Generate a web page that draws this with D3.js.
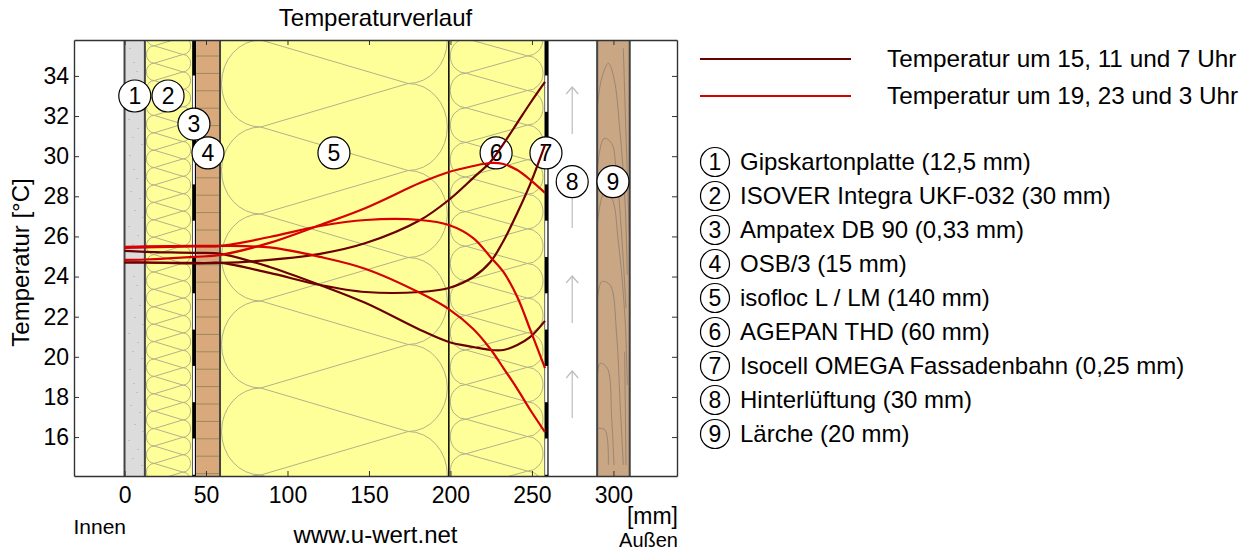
<!DOCTYPE html>
<html>
<head>
<meta charset="utf-8">
<script src="https://d3js.org/d3.v7.min.js"></script>
<style>
  html, body { margin: 0; padding: 0; background: #fff; }
  text { font-family: "Liberation Sans", Arial, sans-serif; fill: #000; }
</style>
</head>
<body>
<svg id="chart" width="1245" height="551"></svg>
<script>
// depth through the wall [mm] and temperature curves [degC]
const depths = [0, 12.5, 43, 59, 89, 120, 148, 181.5, 199, 214, 224.5, 232.5, 241, 249, 258];
const dark1 = [24.70, 24.70, 24.68, 24.68, 24.83, 25.13, 25.67, 26.82, 27.82, 28.92, 29.71, 30.61, 31.66, 32.65, 33.70];
const dark2 = [24.70, 24.70, 24.65, 24.68, 24.18, 23.58, 23.23, 23.23, 23.43, 23.98, 24.73, 25.77, 27.17, 28.62, 30.56];
const dark3 = [25.28, 25.23, 25.18, 25.13, 24.48, 23.58, 22.68, 21.34, 20.74, 20.49, 20.34, 20.34, 20.59, 20.99, 21.79];
const red1 = [24.83, 24.85, 24.98, 25.08, 25.68, 26.57, 27.42, 28.67, 29.21, 29.51, 29.66, 29.61, 29.31, 28.82, 28.17];
const red2 = [25.43, 25.45, 25.50, 25.53, 25.97, 26.52, 26.82, 26.82, 26.57, 25.92, 24.98, 24.23, 22.98, 21.34, 19.44];
const red3 = [25.48, 25.50, 25.53, 25.53, 25.45, 24.98, 24.38, 23.18, 22.38, 21.39, 20.39, 19.44, 18.40, 17.35, 16.25];

const xTicks = [0, 50, 100, 150, 200, 250, 300];
const yTicks = [16, 18, 20, 22, 24, 26, 28, 30, 32, 34];

const layerNames = [
  'Gipskartonplatte (12,5 mm)',
  'ISOVER Integra UKF-032 (30 mm)',
  'Ampatex DB 90 (0,33 mm)',
  'OSB/3 (15 mm)',
  'isofloc L / LM (140 mm)',
  'AGEPAN THD (60 mm)',
  'Isocell OMEGA Fassadenbahn (0,25 mm)',
  'Hinterlüftung (30 mm)',
  'Lärche (20 mm)'
];
const markerX = [6.3, 26.7, 42.6, 51.2, 128.5, 228, 258.6, 274.7, 299.7];
const markerT = [33, 33, 31.6, 30.16, 30.16, 30.16, 30.16, 28.73, 28.73];

const legendLabels = ['Temperatur um 15, 11 und 7 Uhr', 'Temperatur um 19, 23 und 3 Uhr'];
const DARK = '#6b0000', RED = '#d60000';

const margin = { left: 74, right: 568, top: 40, bottom: 75 };
const svg = d3.select('#chart');
const x = d3.scaleLinear().domain([-31, 339]).range([margin.left, 1245 - margin.right]);
const y = d3.scaleLinear().domain([14.06, 35.79]).range([551 - margin.bottom, margin.top]);
const plotTop = y.range()[1], plotBottom = y.range()[0];

svg.append('defs').append('clipPath').attr('id', 'plot')
  .append('rect')
  .attr('x', margin.left).attr('y', plotTop)
  .attr('width', x.range()[1] - x.range()[0]).attr('height', plotBottom - plotTop);

const g = svg.append('g').attr('clip-path', 'url(#plot)');

function band(x0, x1, fill) {
  return g.append('rect')
    .attr('x', x(x0)).attr('y', plotTop)
    .attr('width', x(x1) - x(x0)).attr('height', plotBottom - plotTop)
    .attr('fill', fill);
}

// mineral wool symbol: half ellipses on both sides joined by crossing lines
function wool(x0, x1, period, phase) {
  const left = x(x0) + 1.5, right = x(x1) - 1.5, ry = period / 2, rx = ry * 0.9;
  let d = '';
  for (let yy = phase - 2 * period; yy < plotBottom + period; yy += period) {
    d += `M${left + rx},${yy}A${rx},${ry} 0 0 0 ${left + rx},${yy + period}`;
    d += `L${right - rx},${yy + ry}`;
    d += `A${rx},${ry} 0 0 1 ${right - rx},${yy + ry + period}`;
    d += `L${left + rx},${yy + period}`;
  }
  g.append('path').attr('d', d)
    .attr('fill', 'none').attr('stroke', '#b2b28a').attr('stroke-width', 1);
}

// gypsum board
band(0, 12.5, '#dcdcdc');
const specks = [[4, 8], [8, 22], [11, 31], [5, 44], [14, 51], [9, 63], [17, 70], [3, 79], [12, 88], [7, 97], [16, 104]];
d3.range(0, 5).forEach(k => {
  g.selectAll(null).data(specks).join('rect')
    .attr('x', d => x(0) + 1 + d[0]).attr('y', d => plotTop + d[1] + k * 107)
    .attr('width', 1).attr('height', 1).attr('fill', '#a5a5a5');
});

// insulation
band(12.5, 41.5, '#ffff99');
wool(12.5, 41.5, 17.4, 45.8);
band(58.6, 199, '#ffff99');
wool(58.6, 199, 87, 40);
band(199, 257.7, '#ffff99');
wool(199, 257.7, 34.6, 38.6);

// OSB
band(44, 58.6, '#d9a97c');
d3.range(0, 26).forEach(k => {
  g.append('line')
    .attr('x1', x(44)).attr('x2', x(58.6))
    .attr('y1', plotTop + 16 + k * 17.4).attr('y2', plotTop + 16 + k * 17.4)
    .attr('stroke', '#9a8a5c').attr('stroke-width', 1);
});

// larch with grain lines, traced from the wood symbol
band(290, 310, '#c9a684');
const grainLines = [
  [[22, 215], [35, 130], [55, 85], [72, 130], [90, 290], [105, 500], [112, 720]],
  [[22, 400], [42, 310], [65, 325], [78, 400], [95, 600], [108, 820]],
  [[22, 570], [42, 475], [65, 490], [85, 620], [105, 850], [112, 1050]],
  [[22, 800], [35, 740], [60, 750], [80, 900], [90, 1100], [100, 1290]],
  [[22, 1030], [30, 985], [52, 1000], [65, 1150], [72, 1290]],
  [[22, 1180], [45, 1185], [55, 1290]],
  [[100, 40], [108, 300], [118, 600]],
  [[104, 950], [108, 1290]]
];
const grainPath = d3.line().x(d => 590 + d[0] / 3).y(d => 35 + d[1] / 3).curve(d3.curveCatmullRom);
g.append('g').selectAll('path').data(grainLines).join('path')
  .attr('d', grainPath)
  .attr('fill', 'none').attr('stroke', '#948270').attr('stroke-width', 0.9);

// layer borders
[[0, 2], [12.5, 2], [58.6, 2], [199, 1.5], [290, 2], [310, 2]].forEach(b => {
  g.append('line')
    .attr('x1', x(b[0])).attr('x2', x(b[0])).attr('y1', plotTop).attr('y2', plotBottom)
    .attr('stroke', b[1] > 1.8 ? '#444' : '#000').attr('stroke-width', b[1]);
});

// membranes, alternating thick black and thin white sections
[[41.5, 43.9], [257.7, 260.2]].forEach(m => {
  const mx = x(m[0]), mw = x(m[1]) - x(m[0]);
  g.append('rect').attr('x', mx).attr('y', plotTop).attr('width', mw).attr('height', plotBottom - plotTop).attr('fill', '#000');
  d3.range(0, 6).forEach(k => {
    g.append('rect')
      .attr('x', mx + 0.6).attr('y', plotTop + 35.5 + k * 72.6)
      .attr('width', mw - 1.8).attr('height', 36.3)
      .attr('fill', '#fff');
  });
});

// air gap arrows
const arrows = g.append('g').attr('fill', 'none').attr('stroke', '#bdbdbd').attr('stroke-width', 1.2);
[87, 181, 276, 371].forEach(tip => {
  const ax = x(274.7);
  arrows.append('path')
    .attr('d', `M${ax},${tip + 47}V${tip}M${ax - 6},${tip + 7}L${ax},${tip}L${ax + 6},${tip + 7}`);
});

// axes with inward ticks
function styleAxis(sel) {
  sel.selectAll('path').attr('stroke', '#333').attr('stroke-width', 1.4);
  sel.selectAll('line').attr('stroke', '#333').attr('stroke-width', 1);
  sel.selectAll('text').attr('font-size', 23).attr('font-family', '"Liberation Sans", Arial, sans-serif');
}
svg.append('g').attr('transform', `translate(0,${plotBottom})`)
  .call(d3.axisBottom(x).tickValues(xTicks).tickSizeInner(-5).tickSizeOuter(0).tickPadding(10.7))
  .call(styleAxis);
svg.append('g').attr('transform', `translate(0,${plotTop})`)
  .call(d3.axisTop(x).tickValues(xTicks).tickSizeInner(-5).tickSizeOuter(0).tickFormat(''))
  .call(styleAxis);
svg.append('g').attr('transform', `translate(${margin.left},0)`)
  .call(d3.axisLeft(y).tickValues(yTicks).tickSizeInner(-5).tickSizeOuter(0).tickPadding(5))
  .call(styleAxis);
svg.append('g').attr('transform', `translate(${x.range()[1]},0)`)
  .call(d3.axisRight(y).tickValues(yTicks).tickSizeInner(-5).tickSizeOuter(0).tickFormat(''))
  .call(styleAxis);

// temperature curves
const line = d3.line()
  .x((d, i) => x(depths[i]))
  .y(d => y(d))
  .curve(d3.curveCatmullRom.alpha(0.5));

const curves = [
  { values: dark1, color: DARK }, { values: dark2, color: DARK }, { values: dark3, color: DARK },
  { values: red1, color: RED }, { values: red2, color: RED }, { values: red3, color: RED }
];

// numbered markers sit under the curves
const markers = svg.append('g');
markers.selectAll('circle').data(markerX).join('circle')
  .attr('cx', d => x(d)).attr('cy', (d, i) => y(markerT[i])).attr('r', 16)
  .attr('fill', '#fff').attr('stroke', '#000').attr('stroke-width', 1.2);
markers.selectAll('text').data(markerX).join('text')
  .attr('x', d => x(d)).attr('y', (d, i) => y(markerT[i]) + 8)
  .attr('text-anchor', 'middle').attr('font-size', 23)
  .text((d, i) => i + 1);

svg.append('g').selectAll('path').data(curves).join('path')
  .attr('d', d => line(d.values))
  .attr('fill', 'none').attr('stroke', d => d.color).attr('stroke-width', 2.2);

// titles and captions
svg.append('text').attr('x', 375.5).attr('y', 26).attr('text-anchor', 'middle').attr('font-size', 24).text('Temperaturverlauf');
svg.append('text').attr('transform', 'translate(29,262.5) rotate(-90)').attr('text-anchor', 'middle').attr('font-size', 24).text('Temperatur [°C]');
svg.append('text').attr('x', 73.5).attr('y', 534).attr('font-size', 21).text('Innen');
svg.append('text').attr('x', 375.5).attr('y', 543).attr('text-anchor', 'middle').attr('font-size', 24).text('www.u-wert.net');
svg.append('text').attr('x', 678).attr('y', 523.5).attr('text-anchor', 'end').attr('font-size', 23).text('[mm]');
svg.append('text').attr('x', 678).attr('y', 547).attr('text-anchor', 'end').attr('font-size', 20).text('Außen');

// legend
const legY = [59, 96];
legendLabels.forEach((t, i) => {
  svg.append('line').attr('x1', 700).attr('x2', 851).attr('y1', legY[i]).attr('y2', legY[i])
    .attr('stroke', i ? RED : DARK).attr('stroke-width', 2.2);
  svg.append('text').attr('x', 887).attr('y', legY[i] + 7.5).attr('font-size', 24.3).text(t);
});
layerNames.forEach((t, i) => {
  const ly = 162 + i * 34;
  svg.append('circle').attr('cx', 715).attr('cy', ly).attr('r', 14.5)
    .attr('fill', '#fff').attr('stroke', '#000').attr('stroke-width', 1.2);
  svg.append('text').attr('x', 715).attr('y', ly + 8).attr('text-anchor', 'middle').attr('font-size', 23).text(i + 1);
  svg.append('text').attr('x', 740).attr('y', ly + 7.5).attr('font-size', 24).text(t);
});
</script>
</body>
</html>
